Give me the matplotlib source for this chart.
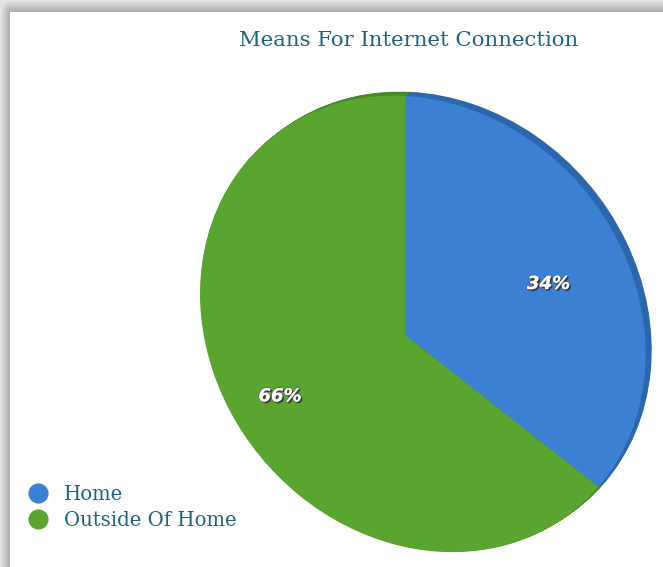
import numpy as np
import matplotlib
matplotlib.use("Agg")
import matplotlib.pyplot as plt
import matplotlib.transforms as mtransforms
import matplotlib.patheffects as pe
from matplotlib.patches import PathPatch
from matplotlib.lines import Line2D

# ---- data -------------------------------------------------------------
title = "Means For Internet Connection"
categories = ["Home", "Outside Of Home"]
shares = [34, 66]

# ---- style ------------------------------------------------------------
face_colors = ["#3b80d2", "#5aa52f"]
rim_colors = ["#2c66ad", "#478a22"]
text_color = "#1d6482"
serif = ["DejaVu Serif"]

W, H = 663, 567
fig = plt.figure(figsize=(W / 100, H / 100), dpi=100)

# card backdrop with a soft shadow along the left and top edges
yy, xx = np.mgrid[0:H, 0:W].astype(float)
card_x, card_y = 10.0, 12.0
dxs = np.clip(card_x - xx, 0, None) / card_x
dys = np.clip(card_y - yy, 0, None) / card_y
dist = np.sqrt(dxs ** 2 + dys ** 2)
inside = (xx >= card_x) & (yy >= card_y)
shade = np.where(inside, 1.0, 0.66 + 0.24 * np.clip(dist, 0, 1))
bg = np.dstack([shade] * 3)
fig.figimage(bg, xo=0, yo=0, origin="upper", zorder=-5)


class TiltedDisc(mtransforms.Transform):
    """Projects the unit-disc of a pie onto a tilted plane (pixel units)."""
    input_dims = 2
    output_dims = 2
    is_separable = False
    has_inverse = False

    def __init__(self, linear, persp, origin):
        super().__init__()
        self.linear = np.asarray(linear, float)
        self.persp = np.asarray(persp, float)
        self.origin = np.asarray(origin, float)

    def transform_non_affine(self, values):
        v = np.asarray(values, float)
        w = 1.0 - v @ self.persp
        return self.origin + (v @ self.linear.T) / w[:, None]


ax = fig.add_axes([0, 0, 1, 1])
ax.patch.set_alpha(0)

wedges, _, pct_texts = ax.pie(
    shares, colors=face_colors, startangle=90, counterclock=False,
    autopct="%d%%", pctdistance=0.69,
    wedgeprops=dict(linewidth=0),
)

ax.set_aspect("auto")
ax.set_xlim(0, W)
ax.set_ylim(H, 0)
ax.axis("off")

disc = TiltedDisc(linear=[[221, 0], [31, -224.7]],
                  persp=[0.08, 0.06], origin=[405, 335])

# depth of the disc: stacked darker copies shifted toward the back
rim_shift = np.array([6.0, -4.0])
for t in np.linspace(1.0, 0.1, 10):
    off = mtransforms.Affine2D().translate(*(rim_shift * t))
    for wdg, rc in zip(wedges, rim_colors):
        ax.add_patch(PathPatch(wdg.get_path(), facecolor=rc, edgecolor="none",
                               transform=disc + off + ax.transData, zorder=1))

for wdg in wedges:
    wdg.set_transform(disc + ax.transData)
    wdg.set_zorder(2)

label_tf = mtransforms.offset_copy(ax.transData, fig=fig, x=0, y=-9, units="dots")
for txt in pct_texts:
    txt.set_position(disc.transform(np.array([txt.get_position()]))[0])
    txt.set_transform(label_tf)
    txt.set_color("white")
    txt.set_fontsize(13)
    txt.set_fontweight("bold")
    txt.set_fontstyle("oblique")
    txt.set_family("DejaVu Sans")
    txt.set_zorder(3)
    txt.set_path_effects([
        pe.withSimplePatchShadow(offset=(1.2, -1.2), shadow_rgbFace="#222222", alpha=0.8),
        pe.withStroke(linewidth=1.0, foreground="#555555"),
        pe.Normal(),
    ])

fig.text(409 / W, 1 - 40 / H, title, ha="center", va="center",
         fontsize=15.3, family=serif, color=text_color)

handles = [Line2D([], [], ls="none", marker="o", ms=13.5, mfc=c, mec=c)
           for c in face_colors]
ax.legend(handles, categories, loc="upper left",
          bbox_to_anchor=(28 / W, 1 - 485 / H), bbox_transform=fig.transFigure,
          frameon=False, prop=dict(family=serif, size=14.1), labelcolor=text_color,
          handlelength=1.0, handletextpad=0.85, labelspacing=0.37,
          borderpad=0, borderaxespad=0)

fig.savefig("out.png", dpi=100)
